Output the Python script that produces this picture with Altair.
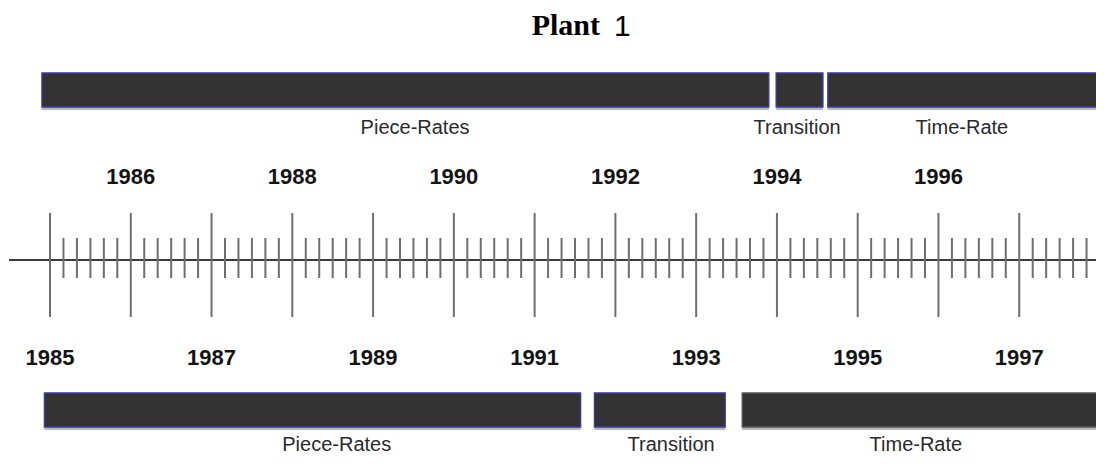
import altair as alt
import pandas as pd

# ---------------- data ----------------
major_years = list(range(1985, 1999))          # long ticks, one per year
label_years = list(range(1985, 1998))          # year labels (even above, odd below)
minor_per_year = 5                             # short ticks between years (bimonthly)

top_phases = ["Piece-Rates", "Transition", "Time-Rate"]
top_start = [1984.90, 1993.99, 1994.63]
top_end = [1993.90, 1994.57, 1998.40]
top_label_at = [1989.52, 1994.25, 1996.29]

bottom_phases = ["Piece-Rates", "Transition", "Time-Rate"]
bottom_start = [1984.93, 1991.74, 1993.57]
bottom_end = [1991.57, 1993.36, 1998.40]
bottom_label_at = [1988.55, 1992.69, 1995.72]

title_word = "Plant"
title_num = "1"

# ---------------- layout ----------------
W, H = 1088, 448
PX_PER_YEAR = 80.77
X0 = 42  # px of 1985 inside the chart
domain = [1985 - X0 / PX_PER_YEAR, 1985 + (W - X0) / PX_PER_YEAR]
xs = alt.Scale(domain=domain, nice=False, zero=False)

majors = pd.DataFrame({"year": major_years})
minors = pd.DataFrame({"t": [y + k / (minor_per_year + 1)
                             for y in label_years for k in range(1, minor_per_year + 1)]})
ylab = pd.DataFrame({"year": label_years, "txt": [str(y) for y in label_years]})
top = pd.DataFrame({"phase": top_phases, "s": top_start, "e": top_end, "lx": top_label_at})
bot = pd.DataFrame({"phase": bottom_phases, "s": bottom_start, "e": bottom_end, "lx": bottom_label_at})
one = pd.DataFrame({"a": [0]})

FILL = "#333333"
EDGE = "#3a3aa8"
SHADOW = "#b8b8b8"


def bars(df, y0, y1, grey_last=False):
    shadow = alt.Chart(df).mark_rect(color=SHADOW).encode(
        x=alt.X("s:Q", scale=xs, axis=None), x2="e:Q",
        y=alt.value(y0 + 3), y2=alt.value(y1 + 3))
    stroke = (alt.condition("datum.phase == 'Time-Rate'", alt.value("#555555"), alt.value(EDGE))
              if grey_last else alt.value(EDGE))
    main = alt.Chart(df).mark_rect(fill=FILL, strokeWidth=1.3).encode(
        x=alt.X("s:Q", scale=xs, axis=None), x2="e:Q",
        y=alt.value(y0), y2=alt.value(y1), stroke=stroke)
    return shadow, main


def labels(df, y):
    return alt.Chart(df).mark_text(font="Liberation Sans", fontSize=20, color="#2a2a2a",
                                   baseline="middle", align="center").encode(
        x=alt.X("lx:Q", scale=xs, axis=None), y=alt.value(y), text="phase:N")


ts, tm = bars(top, 65, 99)
bs, bm = bars(bot, 385, 419, grey_last=True)

axis_line = alt.Chart(one).mark_rule(color="#3c3c3c", strokeWidth=2.2).encode(
    x=alt.value(1), x2=alt.value(W), y=alt.value(252))

major_ticks = alt.Chart(majors).mark_rule(color="#6e6e6e", strokeWidth=2).encode(
    x=alt.X("year:Q", scale=xs, axis=None), y=alt.value(205), y2=alt.value(309))

minor_ticks = alt.Chart(minors).mark_rule(color="#6e6e6e", strokeWidth=2).encode(
    x=alt.X("t:Q", scale=xs, axis=None), y=alt.value(230), y2=alt.value(270))

year_style = dict(font="Liberation Sans", fontSize=22, fontWeight="bold", color="#141414",
                  baseline="middle", align="center")
even_labels = alt.Chart(ylab).transform_filter("datum.year % 2 == 0").mark_text(**year_style).encode(
    x=alt.X("year:Q", scale=xs, axis=None), y=alt.value(169), text="txt:N")
odd_labels = alt.Chart(ylab).transform_filter("datum.year % 2 == 1").mark_text(**year_style).encode(
    x=alt.X("year:Q", scale=xs, axis=None), y=alt.value(350), text="txt:N")

title_a = alt.Chart(pd.DataFrame({"t": [title_word]})).mark_text(
    font="Liberation Serif", fontWeight="bold", fontSize=30, color="#000000",
    align="right", baseline="alphabetic").encode(
    x=alt.value(592), y=alt.value(27), text="t:N")
title_b = alt.Chart(pd.DataFrame({"t": [title_num]})).mark_text(
    font="Liberation Sans", fontSize=30, color="#000000",
    align="left", baseline="alphabetic").encode(
    x=alt.value(606), y=alt.value(28), text="t:N")

chart = alt.layer(
    ts, tm, bs, bm,
    labels(top, 120), labels(bot, 437),
    axis_line, minor_ticks, major_ticks,
    even_labels, odd_labels,
    title_a, title_b,
).properties(
    width=W, height=H,
    autosize=alt.AutoSizeParams(type="none"),
    padding=0,
    background="white",
).configure_view(strokeWidth=0, stroke="transparent")

chart.save("out.html", embed_options={"renderer": "svg", "actions": False})
